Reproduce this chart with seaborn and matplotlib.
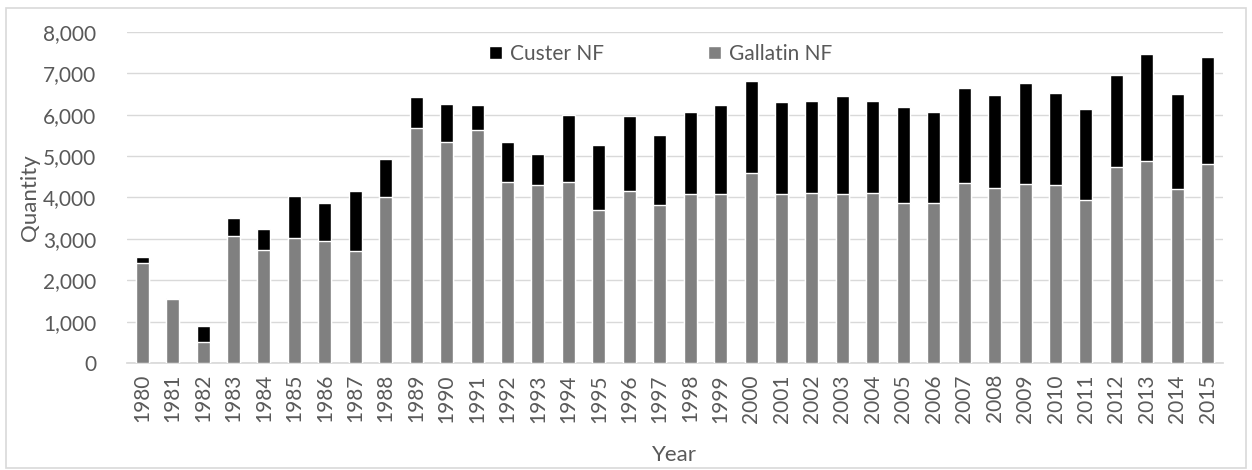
import matplotlib
matplotlib.use("Agg")
import matplotlib.pyplot as plt
import seaborn as sns
import pandas as pd
from matplotlib.patches import Rectangle
from matplotlib.ticker import FuncFormatter

years = list(range(1980, 2016))
gallatin = [2425, 1540, 515, 3080, 2740, 3020, 2960, 2715, 4015, 5690, 5340, 5625,
            4375, 4295, 4375, 3700, 4165, 3830, 4075, 4075, 4595, 4075, 4110, 4075,
            4110, 3860, 3860, 4360, 4240, 4325, 4295, 3950, 4730, 4885, 4200, 4820]
custer = [130, 30, 370, 435, 500, 1025, 895, 1450, 925, 740, 930, 610,
          965, 765, 1620, 1580, 1800, 1670, 1985, 2160, 2230, 2235, 2230, 2380,
          2230, 2320, 2200, 2295, 2225, 2450, 2240, 2200, 2230, 2580, 2295, 2570]
series_names = ["Custer NF", "Gallatin NF"]
y_ticks = [0, 1000, 2000, 3000, 4000, 5000, 6000, 7000, 8000]

df = pd.DataFrame({"Year": [str(y) for y in years], "Gallatin": gallatin, "Custer": custer})
df["Total"] = df["Gallatin"] + df["Custer"]

sns.set_theme(style="white")
plt.rcParams['font.family'] = ['Lato', 'DejaVu Sans']

fig = plt.figure(figsize=(12.52, 4.70), dpi=100)
ax = fig.add_axes([0.1014, 0.2277, 0.8754, 0.7043])

sns.barplot(data=df, x="Year", y="Total", color="#000000", width=0.43,
            saturation=1, ax=ax, label=series_names[0], zorder=3)
sns.barplot(data=df, x="Year", y="Gallatin", color="#808080", width=0.43,
            saturation=1, ax=ax, label=series_names[1], zorder=3)

ax.set_ylim(0, 8000)
ax.set_xlim(-0.5, len(years) - 0.5)
ax.set_yticks(y_ticks)
ax.yaxis.set_major_formatter(FuncFormatter(lambda v, p: f"{int(v):,}"))
ax.grid(axis="y", color="#d9d9d9", linewidth=1, zorder=0)
ax.set_axisbelow(True)
for s in ["top", "right", "left"]:
    ax.spines[s].set_visible(False)
ax.spines["bottom"].set_color("#d9d9d9")
ax.tick_params(axis="x", rotation=90, labelsize=15, colors="#595959", length=0, pad=8)
ax.tick_params(axis="y", labelsize=15, colors="#595959", length=0, pad=22)
ax.set_xlabel("Year", fontsize=16, color="#595959", labelpad=16)
ax.set_ylabel("Quantity", fontsize=16, color="#595959", labelpad=2)

leg = ax.legend(loc="center", bbox_to_anchor=(0.487, 0.933), ncol=2, frameon=False,
                fontsize=15, labelcolor="#595959", handlelength=0.6, handleheight=0.6,
                columnspacing=5.0, handletextpad=0.4)

fig.patches.append(Rectangle((0.005, 0.005), 0.99, 0.978, transform=fig.transFigure,
                             fill=False, edgecolor="#d9d9d9", linewidth=1.2))

fig.savefig("out.png", dpi=100)
